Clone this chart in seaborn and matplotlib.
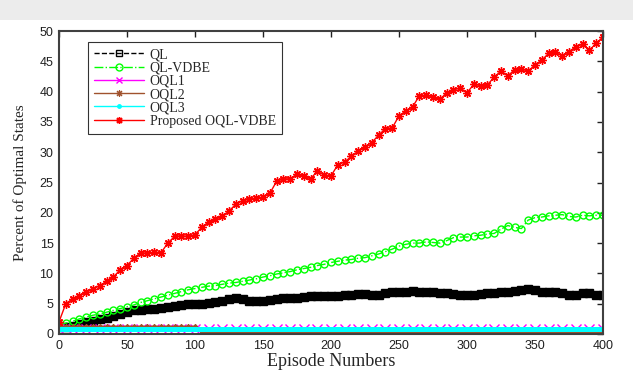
import numpy as np
import pandas as pd
import seaborn as sns
import matplotlib
matplotlib.use("Agg")
import matplotlib.pyplot as plt
from matplotlib.patches import Rectangle

# Episodes sampled every 5 steps
episodes = list(range(0, 401, 5))

ql = [1.2, 1.2, 1.3, 1.6, 1.9, 2.2, 2.4, 2.7, 3.0, 3.3,
      3.6, 3.9, 4.0, 4.1, 4.2, 4.3, 4.5, 4.6, 4.8, 4.9,
      5.0, 5.0, 5.1, 5.3, 5.5, 5.8, 5.9, 5.8, 5.5, 5.4,
      5.5, 5.6, 5.8, 5.9, 5.9, 6.0, 6.1, 6.2, 6.3, 6.3,
      6.2, 6.3, 6.4, 6.5, 6.6, 6.6, 6.5, 6.5, 6.7, 6.9,
      6.9, 7.0, 7.1, 6.9, 7.0, 7.0, 6.8, 6.7, 6.6, 6.4,
      6.5, 6.5, 6.6, 6.8, 6.8, 6.9, 7.0, 7.1, 7.3, 7.5,
      7.2, 7.0, 7.0, 6.9, 6.7, 6.4, 6.5, 6.8, 6.8, 6.5,
      6.5]

ql_vdbe = [1.5, 1.8, 2.1, 2.5, 2.8, 3.1, 3.3, 3.6, 3.9, 4.2,
           4.5, 4.8, 5.2, 5.5, 5.8, 6.1, 6.4, 6.7, 7.0, 7.3,
           7.5, 7.7, 7.9, 8.0, 8.2, 8.4, 8.5, 8.7, 8.9, 9.1,
           9.4, 9.6, 9.9, 10.1, 10.3, 10.6, 10.8, 11.0, 11.3, 11.5,
           11.8, 12.0, 12.2, 12.3, 12.5, 12.6, 12.9, 13.2, 13.6, 14.0,
           14.5, 14.8, 15.0, 15.0, 15.2, 15.1, 15.0, 15.4, 15.9, 16.0,
           16.0, 16.2, 16.3, 16.5, 16.6, 17.3, 17.9, 17.6, 17.4, 18.8,
           19.2, 19.3, 19.5, 19.6, 19.7, 19.4, 19.3, 19.6, 19.5, 19.6,
           19.6]

oql1 = [0.8] * 81
oql2 = [1.25] * 21 + [0.3] * 60
oql3 = [0.78] * 81

proposed = [2.0, 5.0, 5.8, 6.3, 6.9, 7.4, 8.0, 8.7, 9.4, 10.6,
            11.3, 12.5, 13.4, 13.3, 13.5, 13.4, 15.0, 16.1, 16.2, 16.1,
            16.4, 17.6, 18.5, 18.9, 19.4, 20.3, 21.4, 22.0, 22.3, 22.4,
            22.6, 23.2, 25.2, 25.6, 25.6, 26.4, 26.0, 25.6, 26.9, 26.2,
            26.1, 27.9, 28.4, 29.3, 30.2, 30.9, 31.6, 32.8, 33.9, 34.0,
            36.0, 36.8, 37.5, 39.3, 39.4, 39.1, 38.7, 39.8, 40.3, 40.6,
            39.8, 41.2, 41.0, 41.1, 42.4, 43.4, 42.6, 43.6, 43.7, 43.4,
            44.4, 45.2, 46.3, 46.5, 45.9, 46.6, 47.4, 47.8, 46.8, 48.0,
            49.0]

labels = ["QL", "QL-VDBE", "OQL1", "OQL2", "OQL3", "Proposed OQL-VDBE"]

sns.set_style("white")
plt.rcParams["font.family"] = ["Liberation Sans", "DejaVu Sans"]

fig = plt.figure(figsize=(6.33, 3.72), dpi=100)
fig.patches.append(Rectangle((0, 1 - 20 / 372), 1, 20 / 372, transform=fig.transFigure,
                             facecolor="#ececec", edgecolor="none", zorder=0))
ax = fig.add_axes([59 / 633, 1 - 334 / 372, 544 / 633, 303 / 372])

asterisk = (8, 2, 0)
styles = [
    dict(y=ql, color="black", linestyle="--", marker="s", markersize=6,
         markerfacecolor="black", markeredgewidth=1.0, linewidth=1.0),
    dict(y=ql_vdbe, color="#00ff00", linestyle="-.", marker="o", markersize=5,
         markerfacecolor="none", markeredgewidth=1.0, linewidth=1.0),
    dict(y=oql1, color="#ff00ff", linestyle="-", marker="x", markersize=6.5,
         markeredgewidth=1.0, linewidth=1.0, markevery=2),
    dict(y=oql2, color="#a0522d", linestyle="-", marker=asterisk, markersize=3,
         markeredgewidth=0.8, linewidth=1.2),
    dict(y=oql3, color="#00ffff", linestyle="-", marker=".", markersize=4,
         markeredgewidth=1.0, linewidth=3.6),
    dict(y=proposed, color="#ff0000", linestyle="-", marker=asterisk, markersize=6,
         markeredgewidth=1.0, linewidth=1.0),
]

for lab, st in zip(labels, styles):
    st = dict(st)
    yv = st.pop("y")
    sns.lineplot(x=episodes, y=yv, ax=ax, label=lab,
                 markeredgecolor=st["color"], **st)

ax.set_xlim(0, 400)
ax.set_ylim(0, 50)
ax.set_xticks(range(0, 401, 50))
ax.set_yticks(range(0, 51, 5))
ax.tick_params(direction="in", length=4, width=1, top=True, right=True,
               labelsize=9, colors="#202020", pad=4)
for sp in ax.spines.values():
    sp.set_visible(True)
    sp.set_color("#404040")
    sp.set_linewidth(1.5)

ax.set_xlabel("Episode Numbers", fontfamily="Liberation Serif", fontsize=13, labelpad=1)
ax.set_ylabel("Percent of Optimal States", fontfamily="Liberation Serif", fontsize=11,
              labelpad=9)

leg = ax.legend(loc="upper left", bbox_to_anchor=((88 - 59) / 544, (334 - 42) / 303),
                borderaxespad=0, frameon=True, fancybox=False, shadow=False,
                handlelength=3.6, handletextpad=0.4, labelspacing=0.02,
                prop={"family": "Liberation Serif", "size": 10}, borderpad=0.45)
leg.get_frame().set_edgecolor("black")
leg.get_frame().set_linewidth(0.8)
for h in leg.legend_handles:
    h.set_markersize(5)
    h.set_linewidth(1.0)
leg.legend_handles[0].set_markerfacecolor("none")

fig.savefig("out.png", dpi=100)
